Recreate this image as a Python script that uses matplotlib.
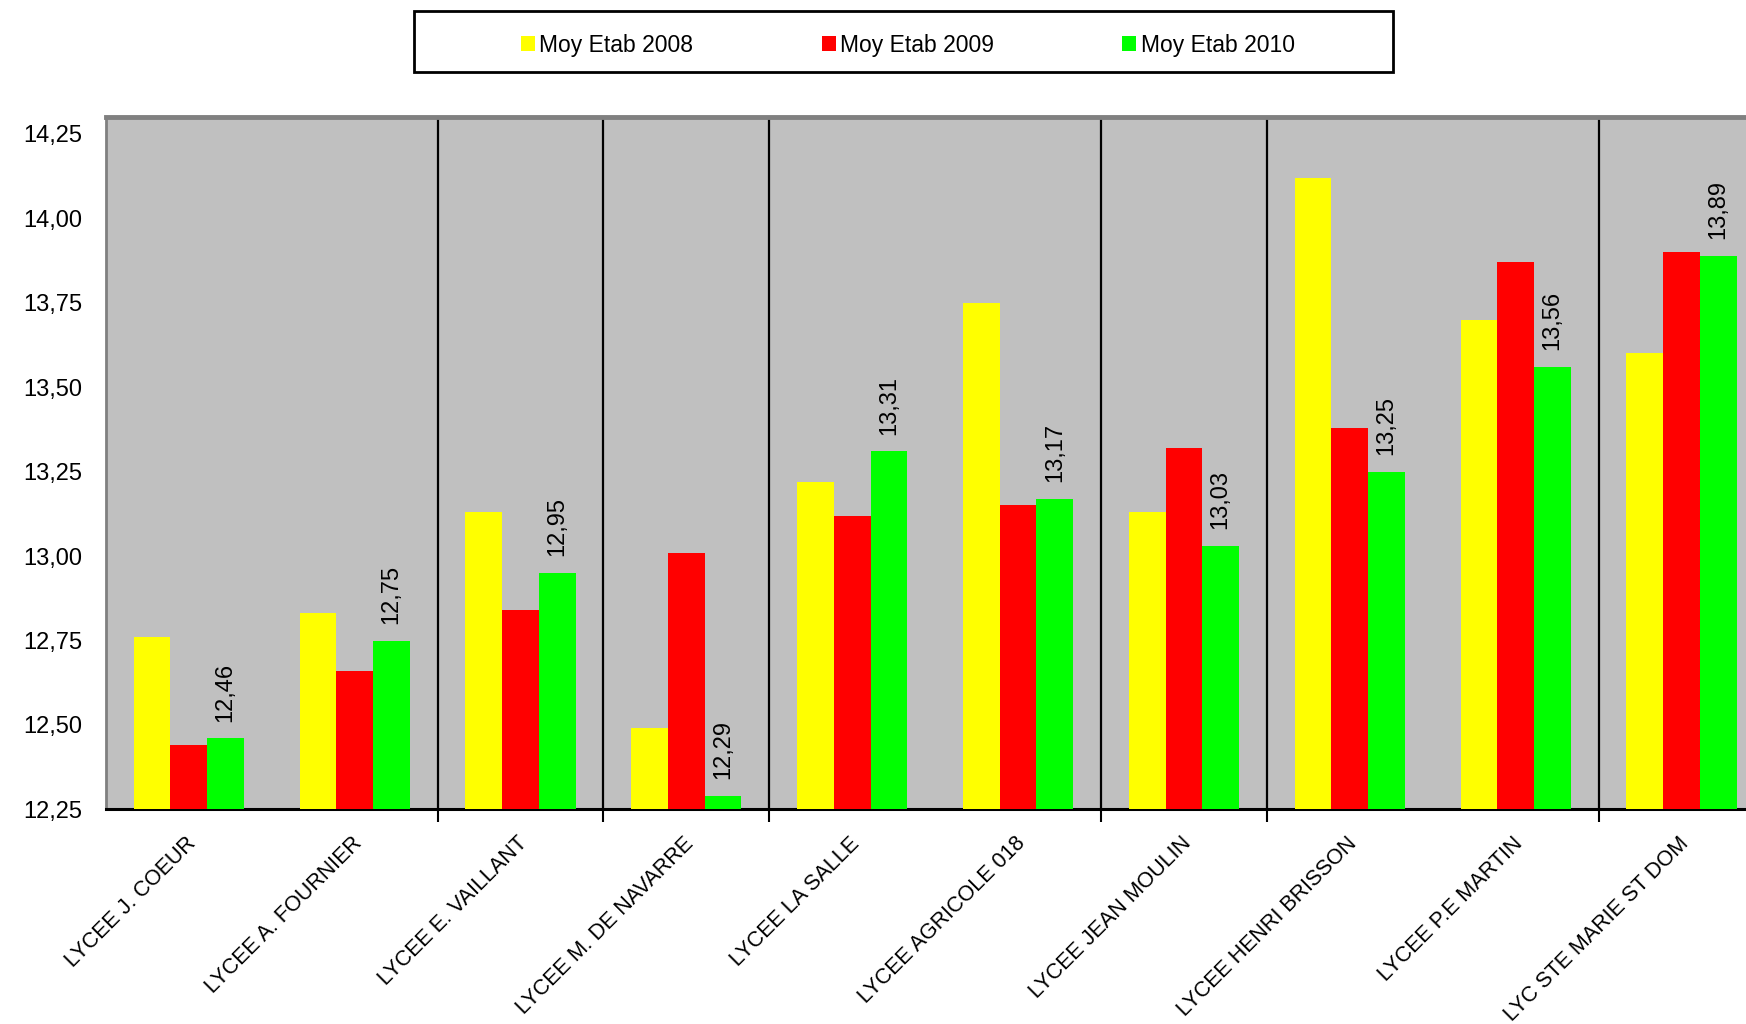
import numpy as np
import matplotlib.pyplot as plt
from matplotlib.patches import Rectangle
from matplotlib.ticker import FixedLocator, FuncFormatter

plt.rcParams['font.family'] = ['Liberation Sans', 'DejaVu Sans']

lycees = ["LYCEE J. COEUR", "LYCEE A. FOURNIER", "LYCEE E. VAILLANT", "LYCEE M. DE NAVARRE",
          "LYCEE LA SALLE", "LYCEE AGRICOLE 018", "LYCEE JEAN MOULIN", "LYCEE HENRI BRISSON",
          "LYCEE P.E MARTIN", "LYC STE MARIE ST DOM"]
moy_2008 = [12.76, 12.83, 13.13, 12.49, 13.22, 13.75, 13.13, 14.12, 13.70, 13.60]
moy_2009 = [12.44, 12.66, 12.84, 13.01, 13.12, 13.15, 13.32, 13.38, 13.87, 13.90]
moy_2010 = [12.46, 12.75, 12.95, 12.29, 13.31, 13.17, 13.03, 13.25, 13.56, 13.89]
series = ["Moy Etab 2008", "Moy Etab 2009", "Moy Etab 2010"]
couleurs = ["#FFFF00", "#FF0000", "#00FF00"]

y_ticks = [12.25, 12.50, 12.75, 13.00, 13.25, 13.50, 13.75, 14.00, 14.25]
# lignes de grille visibles dans l'original
grille_y = [12.25, 12.75, 13.00, 13.25, 14.00, 14.25]
grille_x = [1.5, 2.5, 3.5, 5.5, 6.5, 8.5]

fig = plt.figure(figsize=(17.46, 10.24), dpi=100)
ax = fig.add_axes([0.0606, 0.2096, 0.950, 0.6761])
ax.set_facecolor("#C0C0C0")

x = np.arange(len(lycees))
w = 0.2215
for k, (vals, c, nom) in enumerate(zip([moy_2008, moy_2009, moy_2010], couleurs, series)):
    ax.bar(x + (k - 1) * w, vals, width=w, color=c, label=nom, zorder=3)

for xi, v in zip(x, moy_2010):
    ax.annotate(f"{v:.2f}".replace(".", ","), (xi + w, v), xytext=(0, 12),
                textcoords="offset points", rotation=90, ha="center", va="bottom",
                fontsize=17, zorder=4)

ax.set_xlim(-0.5, 9.5)
ax.set_ylim(12.25, 14.30)

ax.set_yticks(y_ticks)
ax.yaxis.set_major_formatter(FuncFormatter(lambda v, p: f"{v:.2f}".replace(".", ",")))
ax.yaxis.set_minor_locator(FixedLocator(grille_y))
ax.tick_params(axis="y", which="major", length=0, pad=17, labelsize=17)
ax.tick_params(axis="y", which="minor", length=9, width=1.5, color="black")

# etiquettes un peu decalees a droite du centre, comme dans l'original
ax.set_xticks(x + 0.07)
ax.set_xticklabels(lycees, rotation=45, ha="right", va="top", fontsize=15.5)
ax.xaxis.set_minor_locator(FixedLocator(grille_x))
ax.tick_params(axis="x", which="major", length=0, pad=17)
ax.tick_params(axis="x", which="minor", length=9, width=1.5, color="black")

ax.grid(which="minor", color="black", linewidth=1.6, zorder=1)
ax.set_axisbelow(True)

ax.spines["top"].set_color("#808080")
ax.spines["top"].set_linewidth(3.5)
ax.spines["left"].set_color("#808080")
ax.spines["left"].set_linewidth(2)
ax.spines["bottom"].set_color("black")
ax.spines["bottom"].set_linewidth(2.2)
ax.spines["right"].set_visible(False)

fig.patches.append(Rectangle((0.2371, 0.9297), 0.5607, 0.0596, transform=fig.transFigure,
                             fill=False, edgecolor="black", linewidth=2))
fig.legend(loc="center", bbox_to_anchor=(0.520, 0.956), ncol=3, frameon=False,
           fontsize=16.5, handlelength=0.6, handleheight=0.6, handletextpad=0.2,
           columnspacing=5.6)

fig.savefig("out.png", dpi=100)
